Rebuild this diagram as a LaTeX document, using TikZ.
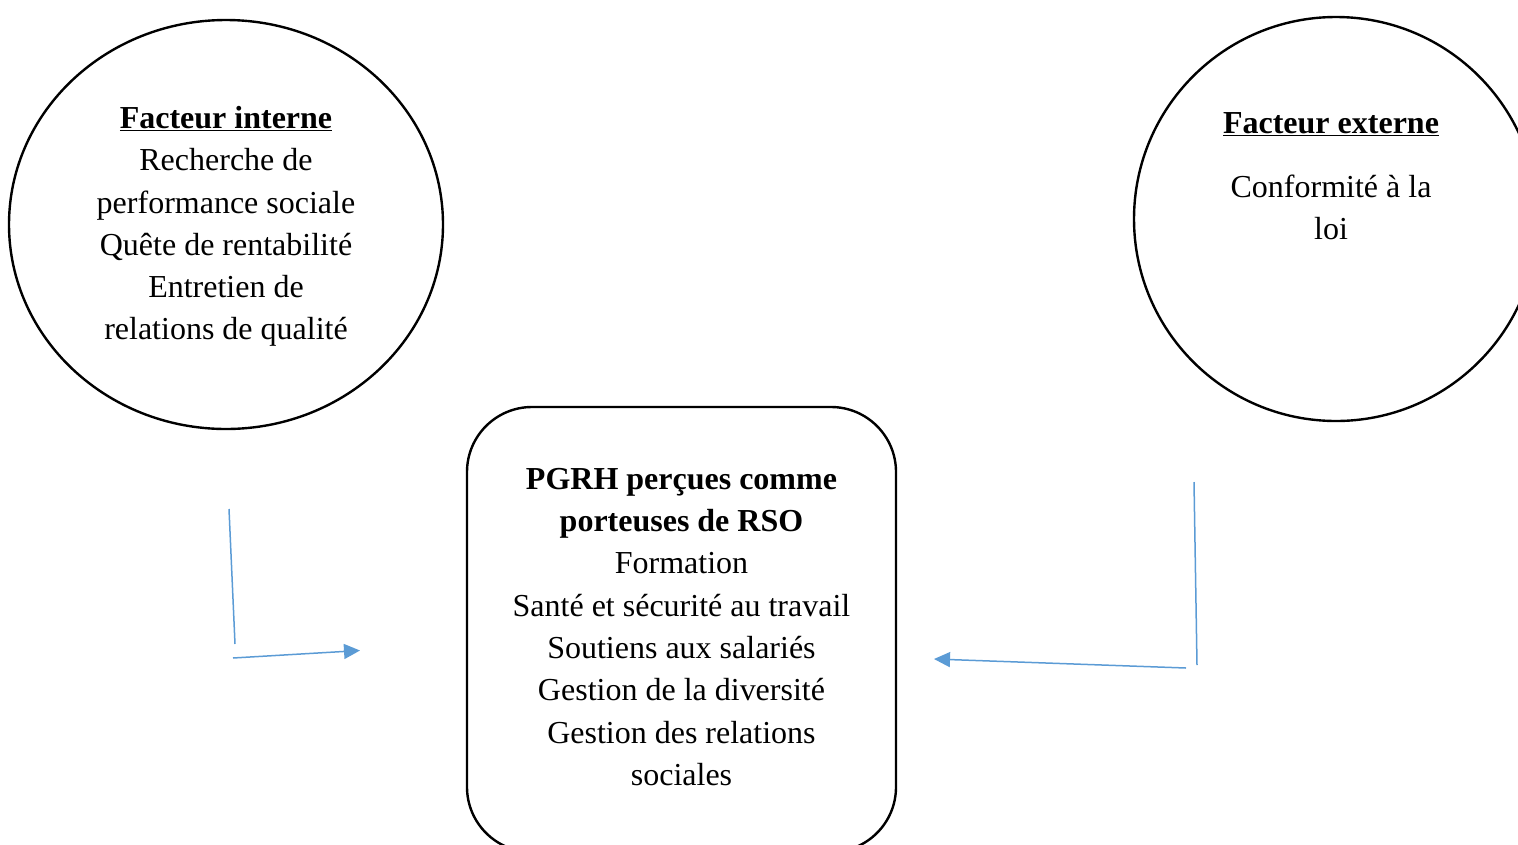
\documentclass[tikz,border=0pt]{standalone}
\usepackage{fontspec}
\setmainfont{Liberation Serif}
\usetikzlibrary{shapes.geometric,arrows.meta}
\definecolor{arrowblue}{HTML}{5B9BD5}
\begin{document}
\begin{tikzpicture}[x=1pt,y=-1pt,
  outline/.style={draw=black, line width=2.4pt, inner sep=0pt},
  txt/.style={align=center, inner sep=0pt, font=\fontsize{32pt}{42.3pt}\selectfont},
  blueline/.style={draw=arrowblue, line width=1.5pt},
  bluearrow/.style={blueline, -{Triangle[length=16pt,width=15pt]}}]
\useasboundingbox (0,0) rectangle (1518,844);
% shapes
\node[outline, ellipse, minimum width=434pt, minimum height=409pt] (interne) at (226,224.5) {};
\node[outline, ellipse, minimum width=404pt, minimum height=404pt] (externe) at (1336,219) {};
\node[outline, rectangle, rounded corners=65pt, minimum width=429pt, minimum height=445pt] (pgrh) at (681.5,629.5) {};
% texts
\node[txt] (interneText) at (226,226.5) {\textbf{\underline{Facteur interne}}\\Recherche de\\performance sociale\\Quête de rentabilité\\Entretien de\\relations de qualité};
\node[txt] (externeTitle) at (1331,124) {\textbf{\underline{Facteur externe}}};
\node[txt] (externeText) at (1331,207.5) {Conformité à la\\loi};
\node[txt] (pgrhText) at (681.5,627) {\textbf{PGRH perçues comme}\\\textbf{porteuses de RSO}\\Formation\\Santé et sécurité au travail\\Soutiens aux salariés\\Gestion de la diversité\\Gestion des relations\\sociales};
% connectors
\coordinate (a1) at (229,509);
\coordinate (a2) at (235,644);
\coordinate (a3) at (233,658);
\coordinate (a4) at (360,650.5);
\draw[blueline] (a1) -- (a2);
\draw[bluearrow] (a3) -- (a4);
\coordinate (b1) at (1194,482);
\coordinate (b2) at (1197,665);
\coordinate (b3) at (1186,668);
\coordinate (b4) at (934,659);
\draw[blueline] (b1) -- (b2);
\draw[bluearrow] (b3) -- (b4);
\end{tikzpicture}
\end{document}
